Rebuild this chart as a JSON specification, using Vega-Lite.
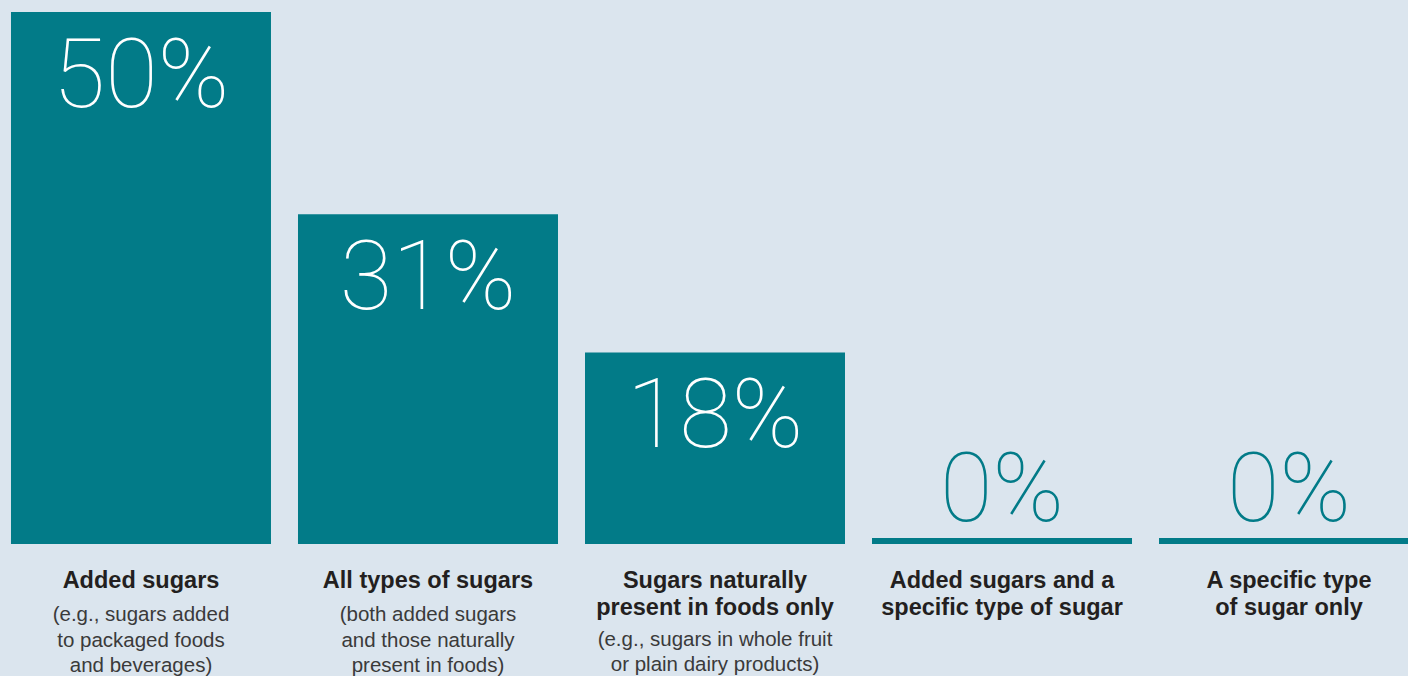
{
  "$schema": "https://vega.github.io/schema/vega-lite/v6.json",
  "width": 1408,
  "height": 676,
  "autosize": {"type": "none"},
  "padding": 0,
  "background": "#dbe5ee",
  "config": {"view": {"stroke": null}},
  "data": {
    "values": [
      {"cat": "Added sugars", "value": 50, "label": "50%", "title": "Added sugars", "sub": "(e.g., sugars added\nto packaged foods\nand beverages)"},
      {"cat": "All types of sugars", "value": 31, "label": "31%", "title": "All types of sugars", "sub": "(both added sugars\nand those naturally\npresent in foods)"},
      {"cat": "Sugars naturally present in foods only", "value": 18, "label": "18%", "title": "Sugars naturally\npresent in foods only", "sub": "(e.g., sugars in whole fruit\nor plain dairy products)"},
      {"cat": "Added sugars and a specific type of sugar", "value": 0, "label": "0%", "title": "Added sugars and a\nspecific type of sugar", "sub": ""},
      {"cat": "A specific type of sugar only", "value": 0, "label": "0%", "title": "A specific type\nof sugar only", "sub": ""}
    ]
  },
  "encoding": {
    "x": {
      "field": "cat",
      "type": "nominal",
      "sort": null,
      "axis": null,
      "scale": {"range": [-2.5, 1432.5], "paddingInner": 0.0941, "paddingOuter": 0.047}
    }
  },
  "layer": [
    {
      "mark": {"type": "bar", "color": "#027b88"},
      "encoding": {
        "y": {"field": "value", "type": "quantitative", "axis": null, "scale": {"domain": [-12.406, 51.128], "nice": false, "zero": false}},
        "y2": {"datum": 0}
      }
    },
    {
      "mark": {"type": "bar", "color": "#027b88"},
      "encoding": {
        "y": {"datum": 0},
        "y2": {"datum": 0.564}
      }
    },
    {
      "transform": [{"filter": "datum.value > 0"}],
      "mark": {"type": "text", "font": "Roboto", "fontWeight": 100, "fontSize": 96, "color": "#ffffff", "baseline": "alphabetic", "dy": 95},
      "encoding": {
        "y": {"field": "value", "type": "quantitative"},
        "text": {"field": "label"}
      }
    },
    {
      "transform": [{"filter": "datum.value == 0"}],
      "mark": {"type": "text", "font": "Roboto", "fontWeight": 100, "fontSize": 96, "color": "#027b88", "baseline": "alphabetic", "dy": -23},
      "encoding": {
        "y": {"datum": 0},
        "text": {"field": "label"}
      }
    },
    {
      "mark": {"type": "text", "font": "Liberation Sans", "fontWeight": "bold", "fontSize": 23.5, "color": "#231f20", "baseline": "alphabetic", "lineBreak": "\n", "lineHeight": 27},
      "encoding": {
        "y": {"datum": -4.135},
        "text": {"field": "title"}
      }
    },
    {
      "transform": [{"filter": "indexof(datum.title, '\\n') < 0"}],
      "mark": {"type": "text", "font": "Liberation Sans", "fontSize": 20.5, "color": "#3a3a3a", "baseline": "alphabetic", "lineBreak": "\n", "lineHeight": 25.5},
      "encoding": {
        "y": {"datum": -7.237},
        "text": {"field": "sub"}
      }
    },
    {
      "transform": [{"filter": "indexof(datum.title, '\\n') >= 0"}],
      "mark": {"type": "text", "font": "Liberation Sans", "fontSize": 20.5, "color": "#3a3a3a", "baseline": "alphabetic", "lineBreak": "\n", "lineHeight": 25.5},
      "encoding": {
        "y": {"datum": -9.586},
        "text": {"field": "sub"}
      }
    }
  ]
}
